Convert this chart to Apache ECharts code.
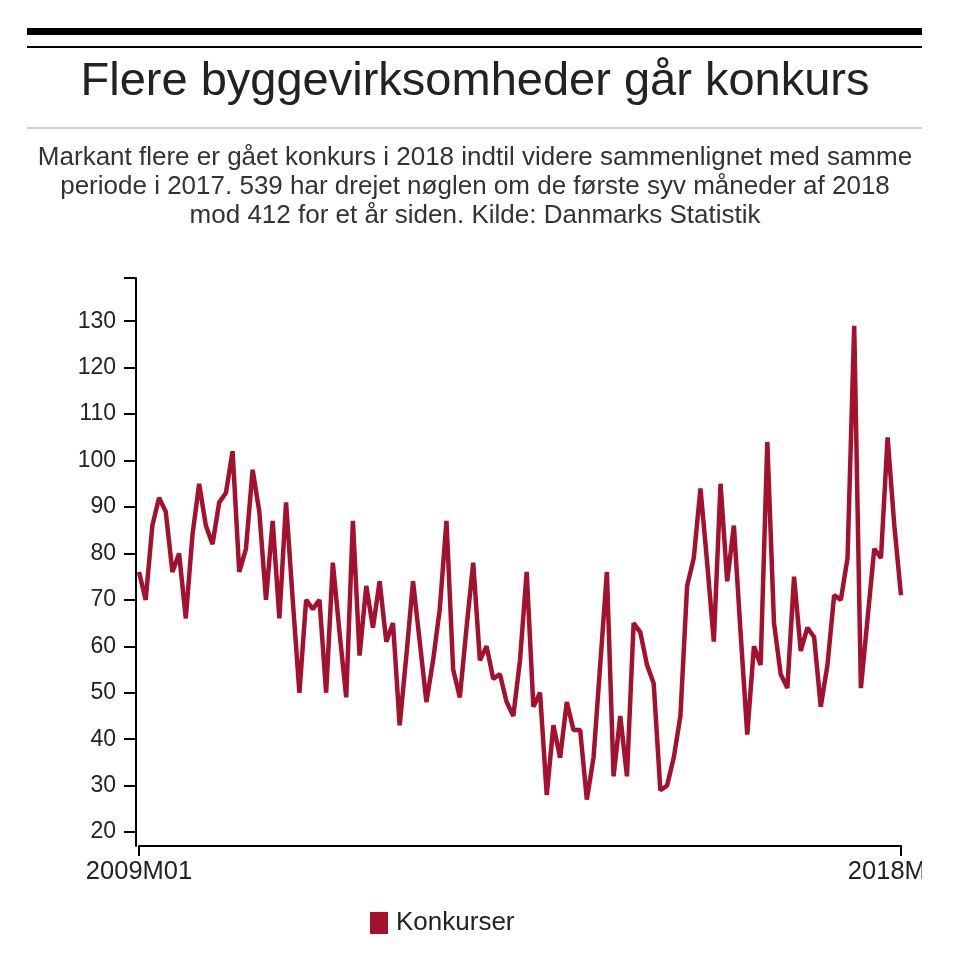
<!DOCTYPE html>
<html>
<head>
<meta charset="utf-8">
<script src="https://cdn.jsdelivr.net/npm/echarts@6/dist/echarts.min.js"></script>
<style>
html, body { margin: 0; padding: 0; background: #fff; }
#main { width: 922px; height: 973px; overflow: hidden; }
</style>
</head>
<body>
<div id="main"></div>
<script>
// konkurser i bygge og anlæg pr. måned, 2009M01 - 2018M07
var startYear = 2009;
var konkurser = [
  76, 70, 86, 92, 89, 76, 80, 66, 84, 95, 86, 82,
  91, 93, 102, 76, 81, 98, 89, 70, 87, 66, 91, 70,
  50, 70, 68, 70, 50, 78, 63, 49, 87, 58, 73, 64,
  74, 61, 65, 43, 58, 74, 61, 48, 57, 68, 87, 55,
  49, 64, 78, 57, 60, 53, 54, 48, 45, 57, 76, 47,
  50, 28, 43, 36, 48, 42, 42, 27, 36, 56, 76, 32,
  45, 32, 65, 63, 56, 52, 29, 30, 36, 45, 73, 79,
  94, 78, 61, 95, 74, 86, 63, 41, 60, 56, 104, 65,
  54, 51, 75, 59, 64, 62, 47, 56, 71, 70, 79, 129,
  51, 66, 81, 79, 105, 86, 71
];
var yTicks = [20, 30, 40, 50, 60, 70, 80, 90, 100, 110, 120, 130];
var yMin = 17;
var yMax = 139.3;

var titleText = 'Flere byggevirksomheder går konkurs';
var subLines = [
  'Markant flere er gået konkurs i 2018 indtil videre sammenlignet med samme',
  'periode i 2017. 539 har drejet nøglen om de første syv måneder af 2018',
  'mod 412 for et år siden. Kilde: Danmarks Statistik'
];

var months = [];
for (var i = 0; i < konkurser.length; i++) {
  var m = i % 12 + 1;
  months.push((startYear + Math.floor(i / 12)) + 'M' + (m < 10 ? '0' + m : m));
}
var lastIdx = months.length - 1;
function endsOnly(idx) { return idx === 0 || idx === lastIdx; }

var font = '"Liberation Sans", Arial, sans-serif';
var red = '#a3112f';

var myChart = echarts.init(document.getElementById('main'));
myChart.setOption({
  animation: false,
  backgroundColor: '#fff',
  textStyle: { fontFamily: font },
  graphic: [
    { type: 'rect', shape: { x: 27, y: 28, width: 895, height: 7 }, style: { fill: '#000' } },
    { type: 'rect', shape: { x: 27, y: 46, width: 895, height: 2 }, style: { fill: '#000' } },
    { type: 'rect', shape: { x: 27, y: 127, width: 895, height: 2 }, style: { fill: '#d0d0d0' } },
    {
      type: 'text', x: 475, y: 82,
      style: { text: titleText, font: '47px ' + font, fill: '#222', textAlign: 'center', textVerticalAlign: 'middle' }
    },
    {
      type: 'text', x: 475, y: 143.5,
      style: { text: subLines.join('\n'), font: '26px ' + font, lineHeight: 29, fill: '#333', textAlign: 'center', textVerticalAlign: 'top' }
    }
  ],
  grid: { left: 139, right: 21, top: 278, bottom: 127, containLabel: false, outerBoundsMode: 'none' },
  legend: {
    left: 365, top: 905,
    icon: 'rect', itemWidth: 18, itemHeight: 22, itemGap: 10,
    textStyle: { fontSize: 26, color: '#222', padding: [0, 0, 0, 3] },
    data: ['Konkurser']
  },
  xAxis: {
    type: 'category',
    data: months,
    boundaryGap: false,
    axisLine: { lineStyle: { color: '#000', width: 2 } },
    axisTick: { interval: endsOnly, length: 10, lineStyle: { color: '#000', width: 2 } },
    axisLabel: { interval: endsOnly, fontSize: 25.5, color: '#222', margin: 13 }
  },
  yAxis: {
    type: 'value',
    min: yMin,
    max: yMax,
    offset: 3,
    splitLine: { show: false },
    axisLine: { show: true, lineStyle: { color: '#000', width: 2 } },
    axisTick: { show: true, length: 12, customValues: yTicks.concat([yMax]), lineStyle: { color: '#000', width: 2 } },
    axisLabel: { fontSize: 23, color: '#222', margin: 20, customValues: yTicks }
  },
  series: [{
    name: 'Konkurser',
    type: 'line',
    data: konkurser,
    symbol: 'none',
    color: red,
    lineStyle: { color: red, width: 4.5 }
  }]
});
</script>
</body>
</html>
